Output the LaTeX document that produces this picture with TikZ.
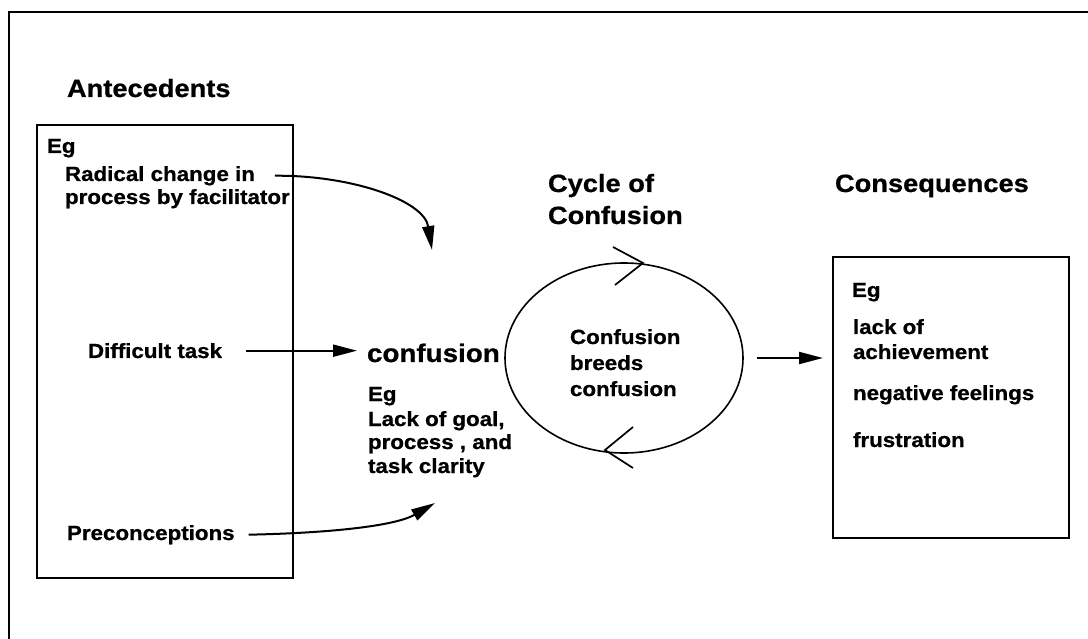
\documentclass[tikz,border=0pt]{standalone}
\usepackage{fontspec}
\setmainfont{Liberation Sans}[FakeStretch=1.09,FakeBold=0.8]
\usetikzlibrary{arrows.meta,shapes.geometric}
\begin{document}
\begin{tikzpicture}[x=1pt,y=-1pt,
  every node/.style={inner sep=0pt, outer sep=0pt},
  head/.style={anchor=base west, font=\bfseries\fontsize{25}{30}\selectfont},
  big/.style={anchor=base west, font=\bfseries\fontsize{25.5}{30}\selectfont},
  txt/.style={anchor=base west, font=\bfseries\fontsize{20.5}{24}\selectfont},
  panel/.style={draw, line width=2pt, anchor=north west},
  conn/.style={line width=2pt, -{Triangle[length=24pt,width=12pt]}},
  chev/.style={line width=1.7pt}]

\useasboundingbox (0,0) rectangle (1088,639);
% open outer frame: top and left rules only
\draw[line width=2.8pt] (1088,12) -- (9,12) -- (9,639);

% antecedents column
\node[head] (anth) at (67,97) {Antecedents};
\node[panel, minimum width=256pt, minimum height=453pt] (antbox) at (37,125) {};
\node[txt] (aeg) at (47,153) {Eg};
\node[txt] (rad1) at (65,181) {Radical change in};
\node[txt] (rad2) at (65,204) {process by facilitator};
\node[txt] (diff) at (88,358) {Difficult task};
\node[txt] (prec) at (67,540) {Preconceptions};

% confusion and its examples
\node[big] (conf) at (367,362) {confusion};
\node[txt] (ceg) at (368,401) {Eg};
\node[txt] (c1) at (368,426) {Lack of goal,};
\node[txt] (c2) at (368,449) {process , and};
\node[txt] (c3) at (368,473) {task clarity};

% cycle of confusion
\node[head] (cyh1) at (548,192) {Cycle of};
\node[head] (cyh2) at (548,224) {Confusion};
\node[draw, ellipse, line width=1.6pt, minimum width=238pt, minimum height=190pt] (cyc) at (624,358) {};
\node[txt] (e1) at (570,344) {Confusion};
\node[txt] (e2) at (570,370) {breeds};
\node[txt] (e3) at (570,396) {confusion};
\draw[chev] (613,247) -- (643,263) -- (615,285);
\draw[chev] (633,427) -- (605,450) -- (633,468);

% consequences column
\node[head] (consh) at (835,192) {Consequences};
\node[panel, minimum width=236pt, minimum height=281pt] (consbox) at (833,257) {};
\node[txt] (qeg) at (852,297) {Eg};
\node[txt] (q1) at (853,334) {lack of};
\node[txt] (q2) at (853,359) {achievement};
\node[txt] (q3) at (853,400) {negative feelings};
\node[txt] (q4) at (853,447) {frustration};

% connectors
\coordinate (radtip) at (432,250);
\coordinate (prectip) at (435,503);
\draw[conn] ([xshift=20pt]rad1.east) .. controls (350,175) and (424,200) .. (radtip);
\draw[conn, shorten <=24pt, shorten >=10pt] (diff.east) -- (diff.east -| conf.west);
\draw[conn] ([xshift=14pt]prec.east) .. controls (330,533) and (395,526) .. (prectip);
\draw[conn, shorten <=14pt, shorten >=10pt] (cyc.east) -- (cyc.east -| consbox.west);
\end{tikzpicture}
\end{document}
